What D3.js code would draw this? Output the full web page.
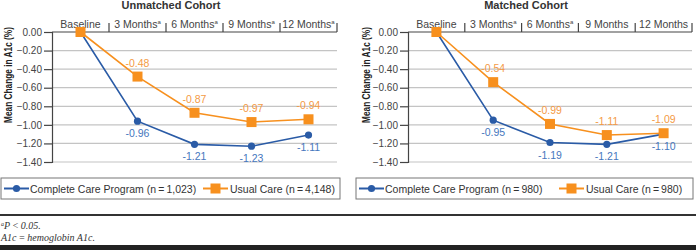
<!DOCTYPE html>
<html>
<head>
<meta charset="utf-8">
<script src="https://cdn.jsdelivr.net/npm/d3@7"></script>
<style>
  body { margin: 0; background: #fff; }
  svg { display: block; font-family: "Liberation Sans", Arial, sans-serif; }
</style>
</head>
<body>
<div id="container"></div>
<script>
/* DATA */
const months = ["Baseline", "3 Months", "6 Months", "9 Months", "12 Months"];
const yTicks = [0, -0.2, -0.4, -0.6, -0.8, -1.0, -1.2, -1.4];

const unmatchedSig = [false, true, true, true, true];
const unmatchedCCP = [0, -0.96, -1.21, -1.23, -1.11];
const unmatchedUC = [0, -0.48, -0.87, -0.97, -0.94];

const matchedSig = [false, true, true, false, false];
const matchedCCP = [0, -0.95, -1.19, -1.21, -1.10];
const matchedUC = [0, -0.54, -0.99, -1.11, -1.09];

const panels = [
  {title: "Unmatched Cohort", sig: unmatchedSig, ccp: unmatchedCCP, uc: unmatchedUC,
   ccpName: "Complete Care Program (n\u2009=\u20091,023)", ucName: "Usual Care (n\u2009=\u20094,148)"},
  {title: "Matched Cohort", sig: matchedSig, ccp: matchedCCP, uc: matchedUC,
   ccpName: "Complete Care Program (n\u2009=\u2009980)", ucName: "Usual Care (n\u2009=\u2009980)"}
];

/* CONSTANTS */
const width = 696, height = 250;
const blue = "#2a5ba6", blueText = "#4677bd",
      orange = "#f7901e", orangeText = "#f49a45";

// per-panel layout
const layout = [
  {axisX: 52, right: 337, labelX: 8, titleX: 171,
   legend: {x: 1, w: 339, ccpX: 4, ucX: 203}},
  {axisX: 408, right: 692, labelX: 366, titleX: 526,
   legend: {x: 356, w: 337, ccpX: 359, ucX: 559}}
];
const plotTop = 32, plotBottom = 162;

const svg = d3.select("#container")
  .append("svg")
  .attr("width", width)
  .attr("height", height);

panels.forEach((p, k) => {
  const L = layout[k];
  const g = svg.append("g");

  const xScale = d3.scaleBand()
    .domain(months)
    .range([L.axisX, L.right]);

  const yScale = d3.scaleLinear()
    .domain([-1.4, 0])
    .range([plotBottom, plotTop]);

  // gridlines
  g.selectAll(".grid")
    .data(yTicks.filter(d => d !== 0))
    .join("line")
    .attr("x1", L.axisX)
    .attr("x2", L.right)
    .attr("y1", d => yScale(d))
    .attr("y2", d => yScale(d))
    .attr("stroke", "#c4c4c4")
    .attr("stroke-width", 1.2);

  // y axis
  const yAxis = d3.axisLeft(yScale)
    .tickValues(yTicks)
    .tickSize(8)
    .tickPadding(2)
    .tickFormat(d3.format(".2f"));
  const ya = g.append("g")
    .attr("transform", `translate(${L.axisX},0)`)
    .call(yAxis);
  ya.select(".domain").attr("stroke", "#444").attr("stroke-width", 1.2);
  ya.selectAll(".tick line").attr("stroke", "#444").attr("stroke-width", 1.2);
  ya.selectAll(".tick text")
    .style("font-size", "10px")
    .attr("fill", "#444");

  // x axis at top (zero line)
  g.append("line")
    .attr("x1", L.axisX).attr("x2", L.right)
    .attr("y1", yScale(0)).attr("y2", yScale(0))
    .attr("stroke", "#444").attr("stroke-width", 1.2);

  // category separators
  g.selectAll(".sep")
    .data(months)
    .join("line")
    .attr("x1", d => xScale(d) + xScale.bandwidth())
    .attr("x2", d => xScale(d) + xScale.bandwidth())
    .attr("y1", yScale(0) - 9)
    .attr("y2", yScale(0))
    .attr("stroke", "#444")
    .attr("stroke-width", 1.2);

  // category labels
  const cat = g.selectAll(".cat")
    .data(months)
    .join("text")
    .attr("x", d => xScale(d) + xScale.bandwidth() / 2)
    .attr("y", 28)
    .attr("text-anchor", "middle")
    .style("font-size", "10.5px")
    .attr("fill", "#444");
  cat.append("tspan").text(d => d);
  cat.filter((d, i) => p.sig[i])
    .append("tspan")
    .text("a")
    .style("font-size", "6px")
    .attr("dy", -4);

  // titles
  g.append("text")
    .attr("x", L.titleX)
    .attr("y", 9)
    .attr("text-anchor", "middle")
    .style("font-size", "11px")
    .style("font-weight", "bold")
    .attr("fill", "#333")
    .text(p.title);

  // y axis label
  g.append("text")
    .attr("transform", `translate(${L.labelX + 4},75) rotate(-90)`)
    .attr("text-anchor", "middle")
    .attr("textLength", 96)
    .attr("lengthAdjust", "spacingAndGlyphs")
    .style("font-size", "10px")
    .style("font-weight", "bold")
    .attr("fill", "#222")
    .text("Mean Change in A1c (%)");

  const cx = (d, i) => xScale(months[i]) + xScale.bandwidth() / 2;
  const line = d3.line()
    .x((d, i) => cx(d, i))
    .y(d => yScale(d));

  // usual care
  g.append("path")
    .datum(p.uc)
    .attr("d", line)
    .attr("fill", "none")
    .attr("stroke", orange)
    .attr("stroke-width", 1.6);

  // complete care program
  g.append("path")
    .datum(p.ccp)
    .attr("d", line)
    .attr("fill", "none")
    .attr("stroke", blue)
    .attr("stroke-width", 1.6);

  g.selectAll(".dot")
    .data(p.ccp)
    .join("circle")
    .attr("cx", cx)
    .attr("cy", d => yScale(d))
    .attr("r", 3.6)
    .attr("fill", blue);

  g.selectAll(".sq")
    .data(p.uc)
    .join("rect")
    .attr("x", (d, i) => cx(d, i) - 5)
    .attr("y", d => yScale(d) - 5)
    .attr("width", 10)
    .attr("height", 10)
    .attr("fill", orange);

  // value labels
  g.selectAll(".ucLab")
    .data(p.uc.slice(1))
    .join("text")
    .attr("x", (d, i) => cx(d, i + 1))
    .attr("y", d => yScale(d) - 10)
    .attr("text-anchor", "middle")
    .style("font-size", "10.5px")
    .attr("fill", orangeText)
    .text(d => d.toFixed(2));

  g.selectAll(".ccpLab")
    .data(p.ccp.slice(1))
    .join("text")
    .attr("x", (d, i) => cx(d, i + 1))
    .attr("y", d => yScale(d) + 16)
    .attr("text-anchor", "middle")
    .style("font-size", "10.5px")
    .attr("fill", blueText)
    .text(d => d.toFixed(2));

  // legend
  const lg = g.append("g");
  lg.append("rect")
    .attr("x", L.legend.x)
    .attr("y", 178)
    .attr("width", L.legend.w)
    .attr("height", 21)
    .attr("fill", "#fff")
    .attr("stroke", "#777")
    .attr("stroke-width", 1);

  const ly = 188.5;
  lg.append("line")
    .attr("x1", L.legend.ccpX).attr("x2", L.legend.ccpX + 25)
    .attr("y1", ly).attr("y2", ly)
    .attr("stroke", blue).attr("stroke-width", 2);
  lg.append("circle")
    .attr("cx", L.legend.ccpX + 12.5).attr("cy", ly).attr("r", 3.6)
    .attr("fill", blue);
  lg.append("text")
    .attr("x", L.legend.ccpX + 26)
    .attr("y", ly + 4)
    .style("font-size", "10.5px")
    .attr("fill", "#333")
    .text(p.ccpName);

  lg.append("line")
    .attr("x1", L.legend.ucX).attr("x2", L.legend.ucX + 25)
    .attr("y1", ly).attr("y2", ly)
    .attr("stroke", orange).attr("stroke-width", 2);
  lg.append("rect")
    .attr("x", L.legend.ucX + 7.5).attr("y", ly - 5)
    .attr("width", 10).attr("height", 10)
    .attr("fill", orange);
  lg.append("text")
    .attr("x", L.legend.ucX + 27)
    .attr("y", ly + 4)
    .style("font-size", "10.5px")
    .attr("fill", "#333")
    .text(p.ucName);
});

// footnote
svg.append("line")
  .attr("x1", 0).attr("x2", width)
  .attr("y1", 215).attr("y2", 215)
  .attr("stroke", "#333").attr("stroke-width", 2);

const fn = svg.append("text")
  .attr("x", 1)
  .attr("y", 229)
  .style("font-family", "'Liberation Serif', serif")
  .style("font-style", "italic")
  .style("font-size", "10px")
  .attr("fill", "#333");
fn.append("tspan").text("a").style("font-size", "6px").attr("dy", -3);
fn.append("tspan").text("P\u2009<\u20090.05.").attr("dy", 3);

svg.append("text")
  .attr("x", 1)
  .attr("y", 241)
  .style("font-family", "'Liberation Serif', serif")
  .style("font-style", "italic")
  .style("font-size", "10px")
  .attr("fill", "#333")
  .text("A1c\u2009=\u2009hemoglobin A1c.");

svg.append("rect")
  .attr("x", 0).attr("y", 245)
  .attr("width", width).attr("height", 5)
  .attr("fill", "#222");
</script>
</body>
</html>
